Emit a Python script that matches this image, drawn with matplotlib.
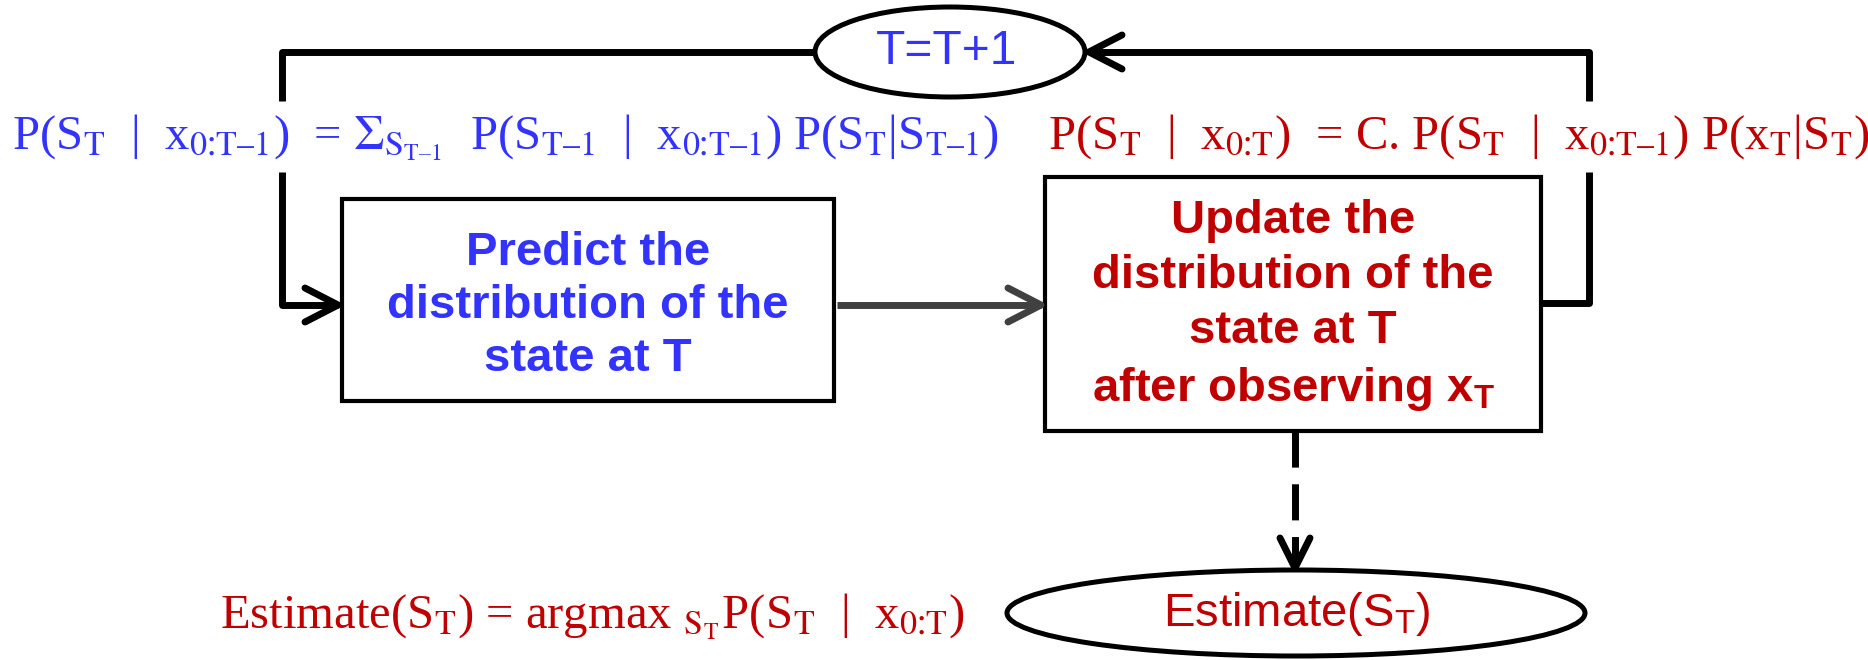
import matplotlib
matplotlib.use('Agg')
import matplotlib.pyplot as plt
from matplotlib.patches import Rectangle, Ellipse

# ---- texts of the diagram ----
loop_label = 'T=T+1'
estimate_label = r'Estimate(S$_\mathrm{T}$)'
predict_label = 'Predict the\ndistribution of the\nstate at T'
update_label = 'Update the\ndistribution of the\nstate at T\nafter observing x$_\\mathbf{T}$'
# en dash and ratio sign keep mathtext from spacing the subscripts out
C = '\\!\u2236\\!'
predict_formula = ('P(S$_T$  |  x$_{0' + C + 'T\u20131}$)  = $\\Sigma_{S_{T\u20131}}$  '
                   'P(S$_{T\u20131}$  |  x$_{0' + C + 'T\u20131}$) P(S$_T$|S$_{T\u20131}$)')
update_formula = ('P(S$_T$  |  x$_{0' + C + 'T}$)  = C. P(S$_T$  |  x$_{0' + C + 'T\u20131}$) '
                  'P(x$_T$|S$_T$)')
estimate_formula = 'Estimate(S$_T$) = argmax $_{S_T}$P(S$_T$  |  x$_{0' + C + 'T}$)'

BLUE = '#3333FF'
RED = '#C00000'
GRAY = '#404040'

plt.rcParams['mathtext.fontset'] = 'custom'
plt.rcParams['mathtext.rm'] = 'Liberation Sans'
plt.rcParams['mathtext.bf'] = 'Liberation Sans:bold'
plt.rcParams['mathtext.default'] = 'rm'

fig = plt.figure(figsize=(18.68, 6.6), dpi=100)
ax = fig.add_axes([0, 0, 1, 1])
ax.set_xlim(0, 1868)
ax.set_ylim(660, 0)
ax.axis('off')

LW = 5  # connector width in points


def chevron(tip, direction, length=33, half=17, color='black'):
    tx, ty = tip
    dx, dy = direction
    nx, ny = -dy, dx
    bx, by = tx - dx * length, ty - dy * length
    ax.plot([bx + nx * half, tx, bx - nx * half], [by + ny * half, ty, by - ny * half],
            color=color, lw=LW, solid_capstyle='round', solid_joinstyle='round')


def path(xs, ys, color='black', **kw):
    ax.plot(xs, ys, color=color, lw=LW, solid_capstyle='butt', solid_joinstyle='round', **kw)


# boxes and ellipses
ax.add_patch(Rectangle((342, 199), 492, 202, fill=False, ec='black', lw=3))
ax.add_patch(Rectangle((1045, 177), 496, 254, fill=False, ec='black', lw=3))
ax.add_patch(Ellipse((950, 52), 270, 90, fill=False, ec='black', lw=3.6))
ax.add_patch(Ellipse((1296, 613), 578, 86, fill=False, ec='black', lw=3.6))

# left part of the loop, into the predict box
path([815, 282, 282], [52, 52, 101])
path([282, 282, 338], [172, 305, 305])
chevron((338, 305), (1, 0))

# predict -> update
path([837, 1041], [305, 305], color=GRAY)
chevron((1041, 305), (1, 0), color=GRAY)

# right part of the loop, back to T=T+1
path([1542, 1589, 1589], [303, 303, 172])
path([1589, 1589, 1089], [101, 52, 52])
chevron((1089, 52), (-1, 0))

# dashed arrow to the estimate
ax.plot([1295, 1295], [431, 568], color='black', lw=LW, linestyle=(0, (5.2, 2.4)),
        dash_capstyle='butt')
chevron((1295, 568), (0, 1), length=30, half=15)

# labels
ax.text(947, 52, loop_label, color=BLUE, fontsize=34.5, family='Liberation Sans',
        ha='center', va='center')
ax.text(1297, 614, estimate_label, color=RED, fontsize=34, family='Liberation Sans',
        ha='center', va='center')
ax.text(588, 306, predict_label, color=BLUE, fontsize=34, family='Liberation Sans', weight='bold',
        ha='center', va='center', linespacing=1.27)
ax.text(1293, 306, update_label, color=RED, fontsize=34, family='Liberation Sans', weight='bold',
        ha='center', va='center', linespacing=1.32)

ax.text(12, 149, predict_formula, color=BLUE, fontsize=35, family='Liberation Serif',
        math_fontfamily='stix', ha='left', va='baseline')
ax.text(1048, 149, update_formula, color=RED, fontsize=35, family='Liberation Serif',
        math_fontfamily='stix', ha='left', va='baseline')
ax.text(220, 628, estimate_formula, color=RED, fontsize=35, family='Liberation Serif',
        math_fontfamily='stix', ha='left', va='baseline')

fig.savefig('out.png', dpi=100)
